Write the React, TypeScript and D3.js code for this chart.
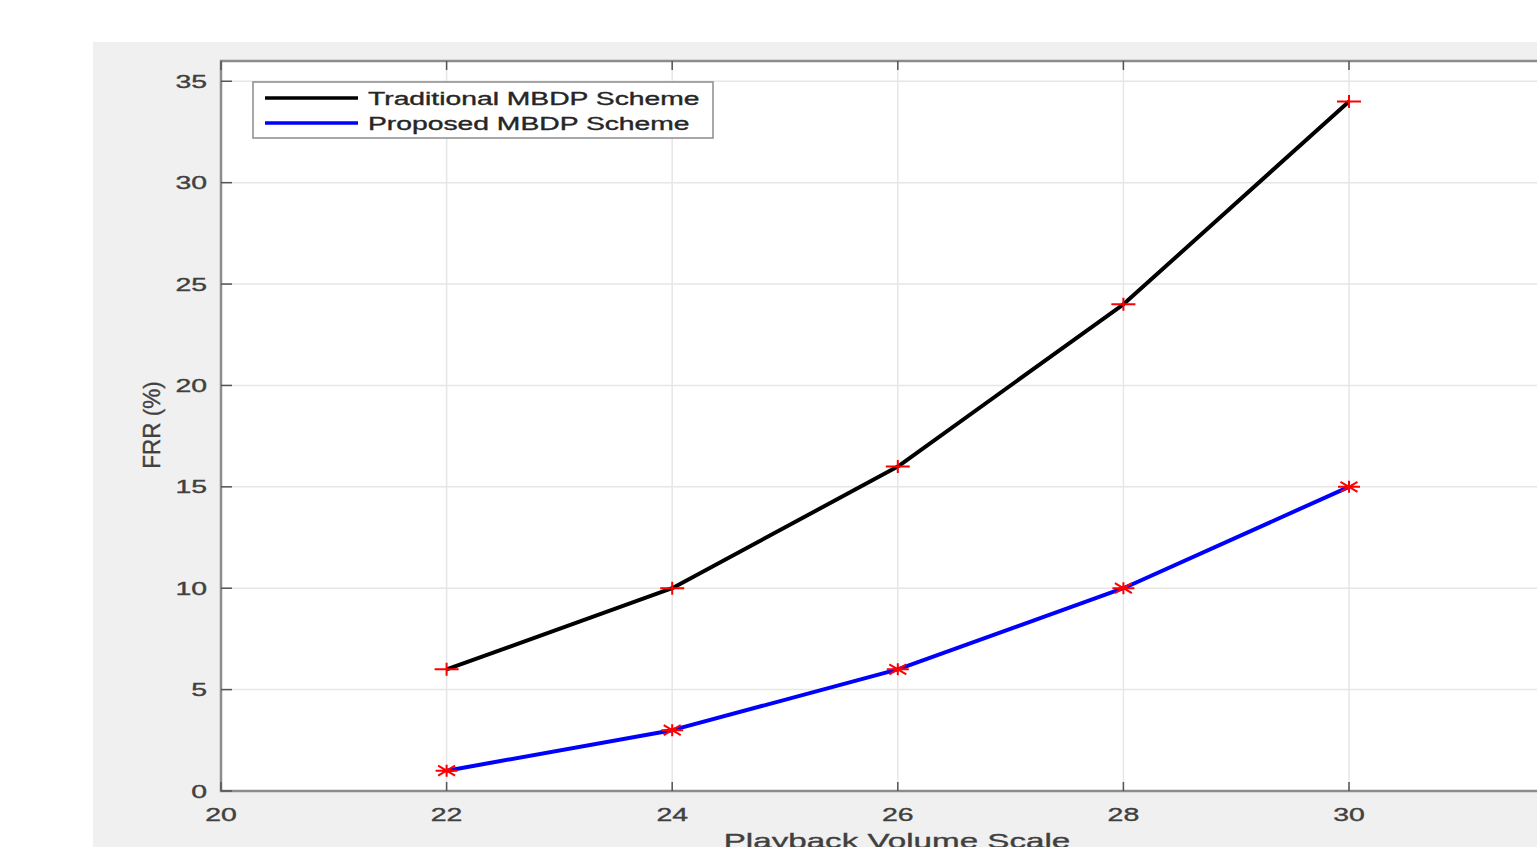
import React from 'react';
import * as d3 from 'd3';

// values
const volumeScale = [22, 24, 26, 28, 30];
const traditionalFRR = [6, 10, 16, 24, 34];
const proposedFRR = [1, 3, 6, 10, 15];
const seriesNames = ['Traditional MBDP Scheme', 'Proposed MBDP Scheme'];
const xTicks = [20, 22, 24, 26, 28, 30];
const yTicks = [0, 5, 10, 15, 20, 25, 30, 35];

const W = 1537;
const H = 847;
const SX = 1.58; // the original picture is stretched sideways
const FONT = '"Liberation Sans", Arial, Helvetica, sans-serif';

function WideText({ x, y, anchor = 'start', size = 18, fill = '#404040', children }) {
  return (
    <text
      transform={`translate(${x},${y}) scale(${SX},1)`}
      textAnchor={anchor}
      fontSize={size}
      fontFamily={FONT}
      fill={fill}
      stroke={fill}
      strokeWidth={0.35}
    >
      {children}
    </text>
  );
}

export default function App() {
  const plot = { left: 221, top: 61, right: 1620, bottom: 791 };

  const x = d3.scaleLinear().domain([20, 32]).range([plot.left, 221 + (1349 - 221) * 1.2]);
  const y = d3.scaleLinear().domain([0, 36]).range([plot.bottom, plot.top]);

  const line = d3.line<number>()
    .x((_, i) => x(volumeScale[i]))
    .y(d => y(d));

  const plusPath = 'M-12,0H12M0,-6.5V6.5';
  const starPath = 'M-11,0H11M0,-6V6M-8.5,-5L8.5,5M-8.5,5L8.5,-5';

  const series = [
    { name: seriesNames[0], values: traditionalFRR, color: '#000000', marker: plusPath },
    { name: seriesNames[1], values: proposedFRR, color: '#0000ff', marker: starPath },
  ];

  return (
    <svg width={W} height={H} style={{ position: 'absolute', left: 0, top: 0, display: 'block' }}>
      <rect x={0} y={0} width={W} height={H} fill="#ffffff" />
      <rect x={93} y={42} width={W - 93} height={H - 42} fill="#f0f0f0" />
      <rect x={plot.left} y={plot.top} width={plot.right - plot.left} height={plot.bottom - plot.top} fill="#ffffff" />

      {/* grid */}
      {xTicks.map(t => (
        <line key={'gx' + t} x1={x(t)} x2={x(t)} y1={plot.top} y2={plot.bottom} stroke="#e6e6e6" strokeWidth={1.5} />
      ))}
      {yTicks.map(t => (
        <line key={'gy' + t} x1={plot.left} x2={plot.right} y1={y(t)} y2={y(t)} stroke="#e6e6e6" strokeWidth={1.5} />
      ))}

      {/* axis box and ticks */}
      <rect x={plot.left} y={plot.top} width={plot.right - plot.left} height={plot.bottom - plot.top}
        fill="none" stroke="#8c8c8c" strokeWidth={2.5} />
      {xTicks.map(t => (
        <g key={'tx' + t}>
          <line x1={x(t)} x2={x(t)} y1={plot.bottom} y2={plot.bottom - 9} stroke="#555" strokeWidth={1.5} />
          <line x1={x(t)} x2={x(t)} y1={plot.top} y2={plot.top + 9} stroke="#555" strokeWidth={1.5} />
          <WideText x={x(t)} y={821} anchor="middle">{t}</WideText>
        </g>
      ))}
      {yTicks.map(t => (
        <g key={'ty' + t}>
          <line x1={plot.left} x2={plot.left + 11} y1={y(t)} y2={y(t)} stroke="#555" strokeWidth={1.5} />
          <WideText x={207} y={y(t) + 6.5} anchor="end">{t}</WideText>
        </g>
      ))}

      {/* axis labels */}
      <WideText x={897} y={848} anchor="middle" size={21}>Playback Volume Scale</WideText>
      <text
        transform={`translate(160,425) rotate(-90) scale(1.25,1.3)`}
        textAnchor="middle"
        fontSize={18}
        fontFamily={FONT}
        fill="#404040"
        stroke="#404040"
        strokeWidth={0.3}
      >
        FRR (%)
      </text>

      {/* series */}
      {series.map(s => (
        <g key={s.name}>
          <path d={line(s.values) ?? ''} fill="none" stroke={s.color} strokeWidth={4} strokeLinejoin="round" />
          {s.values.map((v, i) => (
            <path key={i} d={s.marker} transform={`translate(${x(volumeScale[i])},${y(v)})`}
              stroke="#ff0000" strokeWidth={2} fill="none" />
          ))}
        </g>
      ))}

      {/* legend */}
      <rect x={253} y={82} width={460} height={56} fill="#ffffff" stroke="#8c8c8c" strokeWidth={1.5} />
      {series.map((s, i) => (
        <g key={'lg' + i}>
          <line x1={265} x2={358} y1={98 + i * 25} y2={98 + i * 25} stroke={s.color} strokeWidth={3.5} />
          <WideText x={368} y={105 + i * 25} size={17.9} fill="#262626">{s.name}</WideText>
        </g>
      ))}
    </svg>
  );
}
